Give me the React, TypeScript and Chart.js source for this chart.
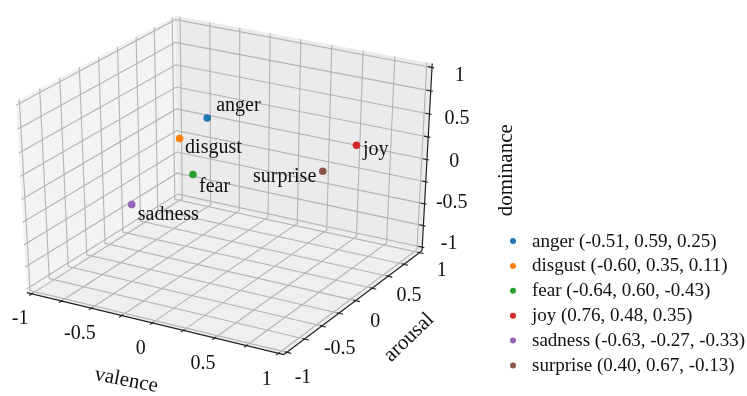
import React, { useEffect, useRef } from 'react';
import { Chart, registerables } from 'chart.js';

Chart.register(...registerables);

// ---- data ----
const emotions = ['anger', 'disgust', 'fear', 'joy', 'sadness', 'surprise'];
const valence = [-0.51, -0.6, -0.64, 0.76, -0.63, 0.4];
const arousal = [0.59, 0.35, 0.6, 0.48, -0.27, 0.67];
const dominance = [0.25, 0.11, -0.43, 0.35, -0.33, -0.13];
const colors = ['#1f77b4', '#ff7f0e', '#2ca02c', '#d62728', '#9467bd', '#8c564b'];
const tickValues = [-1, -0.75, -0.5, -0.25, 0, 0.25, 0.5, 0.75, 1];
const tickLabels = ['-1', '', '-0.5', '', '0', '', '0.5', '', '1'];
const axisTitles = ['valence', 'arousal', 'dominance'];

// ---- label placement (pixels relative to the point, alphabetic baseline) ----
const labelPlacement: Record<string, { dx: number; dy: number; align: CanvasTextAlign }> = {
  anger: { dx: 9, dy: -7, align: 'left' },
  disgust: { dx: 5.5, dy: 14.5, align: 'left' },
  fear: { dx: 6, dy: 17.5, align: 'left' },
  joy: { dx: 6.5, dy: 10, align: 'left' },
  sadness: { dx: 6, dy: 15, align: 'left' },
  surprise: { dx: -6.5, dy: 10.5, align: 'right' },
};

// ---- 3D view (matplotlib-like perspective, elev 30, azim -60) ----
const ELEV = 30;
const AZIM = -60;
const DIST = 10;
const LIM = 1;
const PAD = (2 * LIM) / 48;
const LO = -LIM - PAD;
const HI = LIM + PAD;
const TICK_DELTA = (2 * LIM) / 12;
const FONT = '"Liberation Serif", "Times New Roman", serif';

const el = (ELEV * Math.PI) / 180;
const az = (AZIM * Math.PI) / 180;
const W = [Math.cos(el) * Math.cos(az), Math.cos(el) * Math.sin(az), Math.sin(el)];
const EYE = [0.5 + DIST * W[0], 0.5 + DIST * W[1], 0.5 + DIST * W[2]];
const uLen = Math.hypot(W[1], W[0]);
const U = [-W[1] / uLen, W[0] / uLen, 0];
const V = [
  W[1] * U[2] - W[2] * U[1],
  W[2] * U[0] - W[0] * U[2],
  W[0] * U[1] - W[1] * U[0],
];

function project(x: number, y: number, z: number) {
  const X = (x + LIM) / (2 * LIM);
  const Y = (y + LIM) / (2 * LIM);
  const Z = (z + LIM) / (2 * LIM);
  const d = [X - EYE[0], Y - EYE[1], Z - EYE[2]];
  const xv = U[0] * d[0] + U[1] * d[1] + U[2] * d[2];
  const yv = V[0] * d[0] + V[1] * d[1] + V[2] * d[2];
  const zv = W[0] * d[0] + W[1] * d[1] + W[2] * d[2];
  return { x: xv / -zv, y: yv / -zv };
}

const box3d = {
  id: 'box3d',
  beforeDatasetsDraw(chart: any) {
    const ctx: CanvasRenderingContext2D = chart.ctx;
    const xs = chart.scales.x;
    const ys = chart.scales.y;
    const P = (x: number, y: number, z: number) => {
      const p = project(x, y, z);
      return [xs.getPixelForValue(p.x), ys.getPixelForValue(p.y)];
    };
    const poly = (pts: number[][], fill: string) => {
      ctx.beginPath();
      pts.forEach((q, i) => {
        const [px, py] = P(q[0], q[1], q[2]);
        if (i === 0) ctx.moveTo(px, py);
        else ctx.lineTo(px, py);
      });
      ctx.closePath();
      ctx.fillStyle = fill;
      ctx.fill();
    };
    const polyline = (pts: number[][], color: string, lw: number) => {
      ctx.beginPath();
      pts.forEach((q, i) => {
        const [px, py] = P(q[0], q[1], q[2]);
        if (i === 0) ctx.moveTo(px, py);
        else ctx.lineTo(px, py);
      });
      ctx.strokeStyle = color;
      ctx.lineWidth = lw;
      ctx.stroke();
    };
    const text = (s: string, q: number[], size: number, rot = 0) => {
      const [px, py] = P(q[0], q[1], q[2]);
      ctx.save();
      ctx.translate(px, py);
      ctx.rotate((rot * Math.PI) / 180);
      ctx.font = `${size}px ${FONT}`;
      ctx.fillStyle = '#111';
      ctx.textAlign = 'center';
      ctx.textBaseline = 'middle';
      ctx.fillText(s, 0, 0);
      ctx.restore();
    };

    ctx.save();
    // panes
    poly([[LO, LO, LO], [LO, HI, LO], [LO, HI, HI], [LO, LO, HI]], '#f3f3f3');
    poly([[LO, HI, LO], [HI, HI, LO], [HI, HI, HI], [LO, HI, HI]], '#ebebeb');
    poly([[LO, LO, LO], [HI, LO, LO], [HI, HI, LO], [LO, HI, LO]], '#efefef');

    // grid
    const gc = '#b4b4b4';
    tickValues.forEach((t) => {
      polyline([[t, HI, HI], [t, HI, LO], [t, LO, LO]], gc, 1.1);
      polyline([[LO, t, HI], [LO, t, LO], [HI, t, LO]], gc, 1.1);
      polyline([[LO, LO, t], [LO, HI, t], [HI, HI, t]], gc, 1.1);
    });

    // axis lines
    const ac = '#222';
    polyline([[LO, LO, LO], [HI, LO, LO]], ac, 1.2);
    polyline([[HI, LO, LO], [HI, HI, LO]], ac, 1.2);
    polyline([[HI, HI, LO], [HI, HI, HI]], ac, 1.2);

    // ticks
    tickValues.forEach((t) => {
      polyline([[t, LO + 0.1 * TICK_DELTA, LO], [t, LO - 0.2 * TICK_DELTA, LO]], ac, 1.1);
      polyline([[HI - 0.1 * TICK_DELTA, t, LO], [HI + 0.2 * TICK_DELTA, t, LO]], ac, 1.1);
      polyline([[HI - 0.2 * TICK_DELTA, HI, t], [HI + 0.1 * TICK_DELTA, HI, t]], ac, 1.1);
    });

    // tick labels
    tickValues.forEach((t, i) => {
      const s = tickLabels[i];
      if (!s) return;
      text(s, [t, LO - 0.16, LO - 0.2], 20);
      text(s, [HI + 0.16, t * 1.06, LO - 0.19], 20);
      text(s, [HI + 0.15, HI + 0.14, t * 0.94 - 0.05], 20);
    });

    // axis titles
    text(axisTitles[0], [0, LO - 0.36, LO - 0.44], 21, 11);
    text(axisTitles[1], [HI + 0.43, 0, LO - 0.28], 21, -44);
    text(axisTitles[2], [HI + 0.43, HI + 0.43, -0.21], 21, -90);
    ctx.restore();
  },
  afterDatasetsDraw(chart: any) {
    const ctx: CanvasRenderingContext2D = chart.ctx;
    ctx.save();
    // point labels
    chart.data.datasets.forEach((ds: any, i: number) => {
      const meta = chart.getDatasetMeta(i);
      const el0 = meta.data[0];
      if (!el0) return;
      const pl = labelPlacement[ds.label];
      ctx.font = `20px ${FONT}`;
      ctx.fillStyle = '#111';
      ctx.textAlign = pl.align;
      ctx.textBaseline = 'alphabetic';
      ctx.fillText(ds.label, el0.x + pl.dx, el0.y + pl.dy);
    });
    // legend
    const lx = 513;
    const ly = 241;
    const step = 24.9;
    emotions.forEach((name, i) => {
      const y = ly + i * step;
      ctx.beginPath();
      ctx.arc(lx, y, 3, 0, Math.PI * 2);
      ctx.fillStyle = colors[i];
      ctx.fill();
      ctx.font = `19px ${FONT}`;
      ctx.fillStyle = '#111';
      ctx.textAlign = 'left';
      ctx.textBaseline = 'alphabetic';
      const f = (v: number) => v.toFixed(2);
      ctx.fillText(`${name} (${f(valence[i])}, ${f(arousal[i])}, ${f(dominance[i])})`, lx + 19, y + 5.5);
    });
    ctx.restore();
  },
};

export default function App() {
  const ref = useRef<HTMLCanvasElement>(null);
  useEffect(() => {
    document.body.style.margin = '0';
    const canvas = ref.current;
    if (!canvas) return;
    const datasets = emotions.map((name, i) => {
      const p = project(valence[i], arousal[i], dominance[i]);
      return {
        label: name,
        data: [{ x: p.x, y: p.y }],
        backgroundColor: colors[i],
        borderWidth: 0,
        pointRadius: 3.8,
      };
    });
    const chart = new Chart(canvas, {
      type: 'scatter',
      data: { datasets },
      options: {
        animation: false,
        responsive: false,
        maintainAspectRatio: false,
        devicePixelRatio: 1,
        layout: { padding: 0 },
        plugins: { legend: { display: false }, tooltip: { enabled: false } },
        scales: {
          x: { type: 'linear', min: -0.07847, max: 0.1809, display: false },
          y: { type: 'linear', min: -0.1015, max: 0.08355, display: false },
        },
      },
      plugins: [box3d],
    });
    return () => chart.destroy();
  }, []);
  return <canvas ref={ref} width={747} height={396} style={{ display: 'block' }} />;
}
